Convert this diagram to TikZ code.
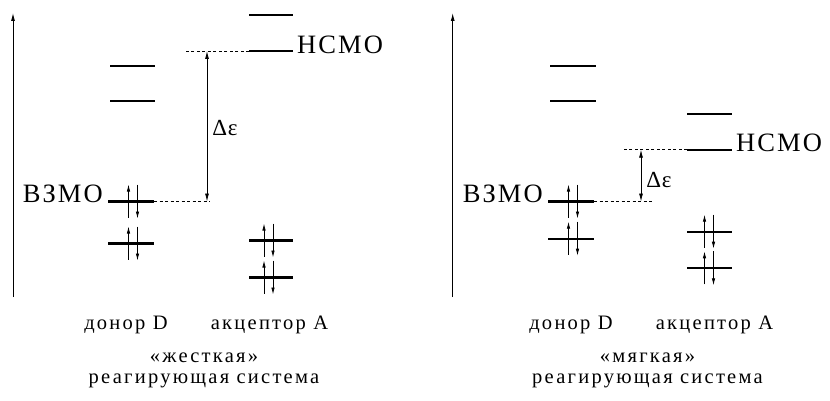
\documentclass[tikz,border=0pt]{standalone}
\usepackage{fontspec}
\setmainfont{Liberation Serif}[LetterSpace=11]
\newfontfamily\orbfont{Liberation Serif}[LetterSpace=8]
\newfontfamily\gapfont{Liberation Serif}[LetterSpace=3]
\usetikzlibrary{arrows.meta,calc}

\begin{document}
\begin{tikzpicture}[x=1pt, y=-1pt,
	every node/.style={font=\fontsize{20.5}{21}\selectfont, inner sep=0pt},
	level/.style={line width=2.2pt},
	spin/.style={line width=0.8pt, -{Latex[length=7pt, width=3.5pt]}},
	axis/.style={line width=0.9pt, -{Latex[length=8pt, width=4pt]}},
	gap/.style={line width=0.8pt, {Latex[length=8pt, width=4pt]}-{Latex[length=8pt, width=4pt]}},
	guide/.style={line width=0.8pt, dash pattern=on 3pt off 2.5pt},
	orbname/.style={font=\orbfont\fontsize{26.5}{28}\selectfont},
	gapname/.style={font=\gapfont\fontsize{23}{24}\selectfont}]
	\useasboundingbox (0,0) rectangle (830,401);

	% left: hard pair
	\coordinate (hAxB) at (13,297);
	\coordinate (hAxT) at (13,13);
	\draw[axis] (hAxB) -- (hAxT);
	\draw[level] (110,66) -- (155,66);
	\draw[level] (110,101) -- (155,101);
	\draw[level] (108,201.5) coordinate (hHomoL) -- (154,201.5) coordinate (hHomoR);
	\draw[level] (108,243.5) -- (154,243.5);
	\draw[level] (249,15) -- (293,15);
	\draw[level] (249,51) coordinate (hLumoL) -- (293,51) coordinate (hLumoR);
	\draw[level] (249,240.5) -- (293,240.5);
	\draw[level] (249,277.5) -- (293,277.5);
	\foreach \x/\y in {133/201.5, 133/243.5, 268.5/240.5, 268.5/277.5} {
		\draw[spin] (\x-4.5,\y+16) -- (\x-4.5,\y-17);
		\draw[spin] (\x+4.5,\y-17) -- (\x+4.5,\y+17);
	}
	\coordinate (hTop) at (184,51);
	\coordinate (hBot) at (210,201.5);
	\draw[guide] (hLumoL) -- (hTop);
	\draw[guide] (hHomoR) -- (hBot);
	\coordinate (hGapT) at (207,51);
	\coordinate (hGapB) at (207,201.5);
	\draw[gap] (hGapT) -- (hGapB) node[gapname, midway, anchor=west, xshift=5pt, yshift=-2pt] (hDelta) {Δε};
	\node[orbname, anchor=base east] (hHomo) at ($(hHomoL)+(-5,0.5)$) {ВЗМО};
	\node[orbname, anchor=base west] (hLumo) at ($(hLumoR)+(4,2.5)$) {НСМО};
	\node (hDon) at (126,325) {донор D};
	\node (hAcc) at (269.5,325) {акцептор А};
	\node[align=center] (hName) at (204,370.5) {«жесткая»\\реагирующая система};

	% right: soft pair
	\coordinate (sAxB) at (452.7,297);
	\coordinate (sAxT) at (452.7,13);
	\draw[axis] (sAxB) -- (sAxT);
	\draw[level] (550,66) -- (596,66);
	\draw[level] (550,101) -- (596,101);
	\draw[level] (548,201.5) coordinate (sHomoL) -- (594,201.5) coordinate (sHomoR);
	\draw[level] (548,238.7) -- (594,238.7);
	\draw[level] (687,113.7) -- (732,113.7);
	\draw[level] (687,149.7) coordinate (sLumoL) -- (732,149.7) coordinate (sLumoR);
	\draw[level] (687,231.7) -- (732,231.7);
	\draw[level] (687,268.3) -- (732,268.3);
	\foreach \x/\y in {573/201.5, 573/238.7, 709/231.7, 709/268.3} {
		\draw[spin] (\x-4.5,\y+16) -- (\x-4.5,\y-17);
		\draw[spin] (\x+4.5,\y-17) -- (\x+4.5,\y+17);
	}
	\coordinate (sTop) at (621.7,149.7);
	\coordinate (sBot) at (651.7,201.5);
	\draw[guide] (sLumoL) -- (sTop);
	\draw[guide] (sHomoR) -- (sBot);
	\coordinate (sGapT) at (641,149.7);
	\coordinate (sGapB) at (641,201.5);
	\draw[gap] (sGapT) -- (sGapB) node[gapname, midway, anchor=west, xshift=5pt, yshift=-4pt] (sDelta) {Δε};
	\node[orbname, anchor=base east] (sHomo) at ($(sHomoL)+(-5,0.5)$) {ВЗМО};
	\node[orbname, anchor=base west] (sLumo) at ($(sLumoR)+(4,1.5)$) {НСМО};
	\node (sDon) at (571,325) {донор D};
	\node (sAcc) at (714.5,325) {акцептор А};
	\node[align=center] (sName) at (647.5,370.5) {«мягкая»\\реагирующая система};
\end{tikzpicture}
\end{document}
